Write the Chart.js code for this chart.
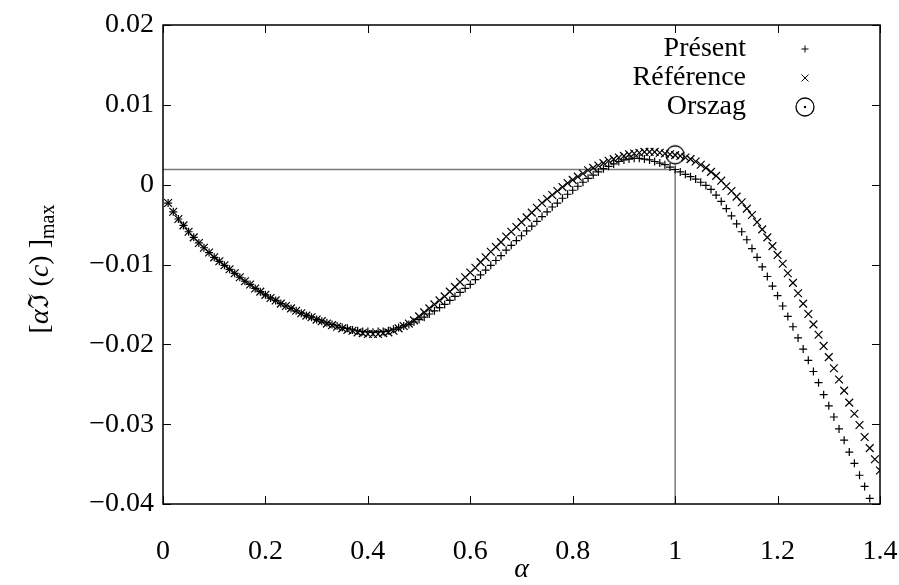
<!DOCTYPE html>
<html>
<head>
    <title>alpha c_i max</title>
    <style>
        body { margin: 0; padding: 0; background: #fff; }
        #box { width: 899px; height: 585px; }
    </style>
    <script src="https://cdn.jsdelivr.net/npm/chart.js"></script>
</head>
<body>
<div id="box"><canvas id="plot" width="899" height="585"></canvas></div>
<script>
    // alpha values (x)
    const alphaValues = [
        0.01, 0.02, 0.03, 0.04, 0.05, 0.06, 0.07, 0.08, 0.09, 0.10,
        0.11, 0.12, 0.13, 0.14, 0.15, 0.16, 0.17, 0.18, 0.19, 0.20,
        0.21, 0.22, 0.23, 0.24, 0.25, 0.26, 0.27, 0.28, 0.29, 0.30,
        0.31, 0.32, 0.33, 0.34, 0.35, 0.36, 0.37, 0.38, 0.39, 0.40,
        0.41, 0.42, 0.43, 0.44, 0.45, 0.46, 0.47, 0.48, 0.49, 0.50,
        0.51, 0.52, 0.53, 0.54, 0.55, 0.56, 0.57, 0.58, 0.59, 0.60,
        0.61, 0.62, 0.63, 0.64, 0.65, 0.66, 0.67, 0.68, 0.69, 0.70,
        0.71, 0.72, 0.73, 0.74, 0.75, 0.76, 0.77, 0.78, 0.79, 0.80,
        0.81, 0.82, 0.83, 0.84, 0.85, 0.86, 0.87, 0.88, 0.89, 0.90,
        0.91, 0.92, 0.93, 0.94, 0.95, 0.96, 0.97, 0.98, 0.99, 1.00,
        1.01, 1.02, 1.03, 1.04, 1.05, 1.06, 1.07, 1.08, 1.09, 1.10,
        1.11, 1.12, 1.13, 1.14, 1.15, 1.16, 1.17, 1.18, 1.19, 1.20,
        1.21, 1.22, 1.23, 1.24, 1.25, 1.26, 1.27, 1.28, 1.29, 1.30,
        1.31, 1.32, 1.33, 1.34, 1.35, 1.36, 1.37, 1.38, 1.39, 1.40
    ];

    // Présent (+), alpha 0.01 .. 1.38
    const presentValues = [
        -0.0023, -0.0034, -0.0043, -0.0051, -0.0059, -0.0066, -0.0073, -0.0079, -0.0085, -0.0091,
        -0.0096, -0.0101, -0.0106, -0.0111, -0.0116, -0.0121, -0.0125, -0.0130, -0.0134, -0.0138,
        -0.0142, -0.0145, -0.0149, -0.0152, -0.0155, -0.0158, -0.0161, -0.0164, -0.0166, -0.0169,
        -0.0171, -0.0173, -0.0175, -0.0177, -0.0179, -0.0180, -0.0182, -0.0183, -0.0184, -0.0184,
        -0.0185, -0.0184, -0.0184, -0.0183, -0.0181, -0.0179, -0.0177, -0.0175, -0.0172, -0.0169,
        -0.0166, -0.0162, -0.0158, -0.0154, -0.0150, -0.0145, -0.0140, -0.0135, -0.0130, -0.0125,
        -0.0119, -0.0113, -0.0107, -0.0101, -0.0095, -0.0089, -0.0082, -0.0076, -0.0070, -0.0064,
        -0.0058, -0.0052, -0.0046, -0.0040, -0.0034, -0.0028, -0.0023, -0.0017, -0.0012, -0.0007,
        -0.0002, 0.0003, 0.0008, 0.0012, 0.0016, 0.0020, 0.0023, 0.0026, 0.0029, 0.0031,
        0.0032, 0.0033, 0.0033, 0.0032, 0.0031, 0.0029, 0.0027, 0.0025, 0.0022, 0.0019,
        0.0016, 0.0013, 0.0010, 0.0007, 0.0003, -0.0001, -0.0006, -0.0013, -0.0021, -0.0030,
        -0.0039, -0.0049, -0.0059, -0.0069, -0.0080, -0.0091, -0.0103, -0.0115, -0.0127, -0.0139,
        -0.0152, -0.0165, -0.0178, -0.0192, -0.0206, -0.0220, -0.0234, -0.0248, -0.0263, -0.0277,
        -0.0291, -0.0306, -0.0320, -0.0335, -0.0349, -0.0364, -0.0378, -0.0393
    ];

    // Référence (x), alpha 0.01 .. 1.40
    const referenceValues = [
        -0.0023, -0.0034, -0.0043, -0.0051, -0.0059, -0.0066, -0.0073, -0.0079, -0.0085, -0.0091,
        -0.0096, -0.0101, -0.0106, -0.0111, -0.0116, -0.0121, -0.0125, -0.0130, -0.0134, -0.0138,
        -0.0142, -0.0145, -0.0149, -0.0152, -0.0155, -0.0158, -0.0161, -0.0164, -0.0166, -0.0169,
        -0.0171, -0.0174, -0.0176, -0.0178, -0.0180, -0.0182, -0.0183, -0.0185, -0.0186, -0.0187,
        -0.0187, -0.0187, -0.0186, -0.0185, -0.0183, -0.0180, -0.0177, -0.0174, -0.0170, -0.0165,
        -0.0160, -0.0155, -0.0150, -0.0145, -0.0140, -0.0134, -0.0128, -0.0122, -0.0116, -0.0110,
        -0.0104, -0.0097, -0.0091, -0.0084, -0.0078, -0.0072, -0.0065, -0.0059, -0.0053, -0.0047,
        -0.0041, -0.0035, -0.0029, -0.0023, -0.0018, -0.0013, -0.0008, -0.0003, 0.0002, 0.0006,
        0.0010, 0.0014, 0.0018, 0.0021, 0.0024, 0.0027, 0.0030, 0.0032, 0.0034, 0.0036,
        0.0038, 0.0039, 0.0040, 0.0041, 0.0041, 0.0041, 0.0040, 0.0039, 0.0038, 0.0037,
        0.0036, 0.0034, 0.0032, 0.0029, 0.0025, 0.0021, 0.0016, 0.0011, 0.0005, -0.0002,
        -0.0008, -0.0015, -0.0022, -0.0030, -0.0038, -0.0047, -0.0056, -0.0066, -0.0077, -0.0088,
        -0.0099, -0.0111, -0.0123, -0.0136, -0.0149, -0.0162, -0.0175, -0.0188, -0.0202, -0.0216,
        -0.0230, -0.0244, -0.0258, -0.0273, -0.0287, -0.0301, -0.0316, -0.0330, -0.0344, -0.0358
    ];

    // Orszag point
    const orszagAlpha = [1.0];
    const orszagValues = [0.00374];

    // guide lines (Présent at alpha = 1)
    const guideX = [0, 1, 1];
    const guideY = [0.0019, 0.0019, -0.04];

    const xTickLabels = ['0', '0.2', '0.4', '0.6', '0.8', '1', '1.2', '1.4'];
    const yTickLabels = ['\u22120.04', '\u22120.03', '\u22120.02', '\u22120.01', '0', '0.01', '0.02'];

    const seriesNames = ['Présent', 'Référence', 'Orszag'];

    const FONT = '"Liberation Serif", "DejaVu Serif", serif';

    function toPoints(xs, ys) {
        return ys.map((y, i) => ({ x: xs[i], y: y }));
    }

    // circle with a dot, used for the Orszag marker
    const odot = document.createElement('canvas');
    odot.width = 24; odot.height = 24;
    (function () {
        const c = odot.getContext('2d');
        c.strokeStyle = '#000';
        c.lineWidth = 1.3;
        c.beginPath(); c.arc(12, 12, 9, 0, Math.PI * 2); c.stroke();
        c.fillStyle = '#000';
        c.beginPath(); c.arc(12, 12, 1.2, 0, Math.PI * 2); c.fill();
    })();

    const frame = {
        id: 'frame',
        afterDatasetsDraw(chart) {
            const ctx = chart.ctx, a = chart.chartArea;
            const xs = chart.scales.x, ys = chart.scales.y;
            const tl = 8;
            ctx.save();
            ctx.strokeStyle = '#000';
            ctx.lineWidth = 1.5;
            ctx.strokeRect(a.left, a.top, a.right - a.left, a.bottom - a.top);
            ctx.lineWidth = 1;
            ctx.beginPath();
            xs.ticks.forEach(t => {
                const px = Math.round(xs.getPixelForValue(t.value)) + 0.5;
                ctx.moveTo(px, a.bottom); ctx.lineTo(px, a.bottom - tl);
                ctx.moveTo(px, a.top); ctx.lineTo(px, a.top + tl);
            });
            ys.ticks.forEach(t => {
                const py = Math.round(ys.getPixelForValue(t.value)) + 0.5;
                ctx.moveTo(a.left, py); ctx.lineTo(a.left + tl, py);
                ctx.moveTo(a.right, py); ctx.lineTo(a.right - tl, py);
            });
            ctx.stroke();

            // legend, top right inside the frame
            ctx.font = '28px ' + FONT;
            ctx.fillStyle = '#000';
            ctx.textAlign = 'right';
            ctx.textBaseline = 'middle';
            ctx.lineWidth = 1;
            const tx = a.right - 134, sx = a.right - 75;
            seriesNames.forEach((name, i) => {
                const y = a.top + 24 + i * 29;
                ctx.fillText(name, tx, y);
                ctx.beginPath();
                if (i === 0) {
                    ctx.moveTo(sx - 3.5, y); ctx.lineTo(sx + 3.5, y);
                    ctx.moveTo(sx, y - 3.5); ctx.lineTo(sx, y + 3.5);
                    ctx.stroke();
                } else if (i === 1) {
                    ctx.moveTo(sx - 3.5, y - 3.5); ctx.lineTo(sx + 3.5, y + 3.5);
                    ctx.moveTo(sx - 3.5, y + 3.5); ctx.lineTo(sx + 3.5, y - 3.5);
                    ctx.stroke();
                } else {
                    ctx.drawImage(odot, sx - 12, y - 12);
                }
            });

            // axis titles
            ctx.textAlign = 'center';
            ctx.font = 'italic 28px ' + FONT;
            ctx.fillText('\u03b1', (a.left + a.right) / 2, 570);

            // y title: [αℑ (c) ]max
            const parts = [
                ['[', '28px ' + FONT, 0],
                ['\u03b1', 'italic 28px ' + FONT, 0],
                ['\u2111', '28px "DejaVu Serif", serif', 0],
                [' (', '28px ' + FONT, 0],
                ['c', 'italic 28px ' + FONT, 0],
                [') ', '28px ' + FONT, 0],
                [']', '28px ' + FONT, 0],
                ['max', '20px ' + FONT, 6]
            ];
            let total = 0;
            parts.forEach(p => { ctx.font = p[1]; total += ctx.measureText(p[0]).width; });
            ctx.translate(38, 269);
            ctx.rotate(-Math.PI / 2);
            ctx.textAlign = 'left';
            ctx.textBaseline = 'alphabetic';
            let cx = -total / 2;
            parts.forEach(p => {
                ctx.font = p[1];
                ctx.fillText(p[0], cx, 10 + p[2]);
                cx += ctx.measureText(p[0]).width;
            });
            ctx.restore();
        }
    };

    new Chart(document.getElementById('plot'), {
        type: 'scatter',
        data: {
            datasets: [
                {
                    label: seriesNames[2],
                    data: toPoints(orszagAlpha, orszagValues),
                    pointStyle: odot,
                    pointRadius: 9
                },
                {
                    label: seriesNames[1],
                    data: toPoints(alphaValues, referenceValues),
                    pointStyle: 'crossRot',
                    pointRadius: 5.5,
                    borderColor: '#000',
                    borderWidth: 1.2
                },
                {
                    label: seriesNames[0],
                    data: toPoints(alphaValues, presentValues),
                    pointStyle: 'cross',
                    pointRadius: 4,
                    borderColor: '#000',
                    borderWidth: 1.2
                },
                {
                    label: 'guide',
                    data: toPoints(guideX, guideY),
                    showLine: true,
                    pointRadius: 0,
                    borderColor: '#7a7a7a',
                    borderWidth: 1.5
                }
            ]
        },
        options: {
            responsive: false,
            animation: false,
            events: [],
            layout: { padding: { left: 0, top: 25, right: 19, bottom: 0 } },
            plugins: {
                legend: { display: false },
                tooltip: { enabled: false }
            },
            scales: {
                x: {
                    type: 'linear',
                    min: 0,
                    max: 1.4,
                    grid: { display: false, drawTicks: false },
                    border: { display: false },
                    afterFit: s => { s.height = 81; s.paddingLeft = 0; s.paddingRight = 0; },
                    ticks: {
                        stepSize: 0.2,
                        padding: 31,
                        color: '#000',
                        font: { family: FONT, size: 28 },
                        maxRotation: 0,
                        callback: (v, i) => xTickLabels[i]
                    }
                },
                y: {
                    type: 'linear',
                    min: -0.04,
                    max: 0.02,
                    grid: { display: false, drawTicks: false },
                    border: { display: false },
                    afterFit: s => { s.width = 163; s.paddingTop = 0; s.paddingBottom = 0; },
                    ticks: {
                        stepSize: 0.01,
                        padding: 9,
                        color: '#000',
                        font: { family: FONT, size: 28 },
                        callback: (v, i) => yTickLabels[i]
                    }
                }
            }
        },
        plugins: [frame]
    });
</script>
</body>
</html>
